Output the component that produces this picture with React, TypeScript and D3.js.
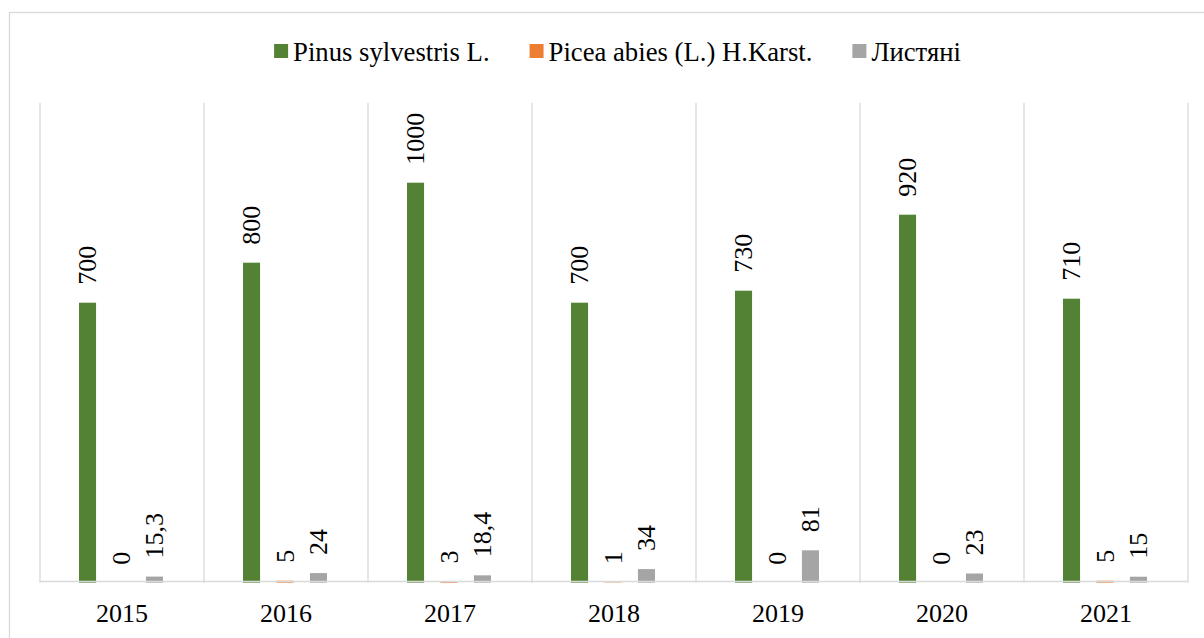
import React, { useEffect, useRef } from "react";
import * as d3 from "d3";

const years = ["2015", "2016", "2017", "2018", "2019", "2020", "2021"];
const pinus = [700, 800, 1000, 700, 730, 920, 710];
const picea = [0, 5, 3, 1, 0, 0, 5];
const lystiani = [15.3, 24, 18.4, 34, 81, 23, 15];
const seriesNames = ["Pinus sylvestris L.", "Picea abies (L.) H.Karst.", "Листяні"];
const colors = ["#548235", "#ED7D31", "#A5A5A5"];

const W = 1204;
const H = 638;
const FONT = "'Times New Roman', 'Liberation Serif', serif";

const App = () => {
  const ref = useRef<SVGGElement>(null);

  useEffect(() => {
    const g = d3.select(ref.current);
    g.selectAll("*").remove();

    const series = [pinus, picea, lystiani];
    const x = d3.scaleBand().domain(years).range([40, 1188]).padding(0);
    const y = d3.scaleLinear().domain([0, 1200]).range([582.7, 102.7]);
    const inner = d3.scaleBand().domain(["0", "1", "2"]).range([79, 163]).paddingInner(0.49);
    const fmt = d3.formatLocale({ decimal: ",", thousands: "", grouping: [3], currency: ["", ""] }).format("~");

    // outer border
    g.append("rect")
      .attr("x", 9.5)
      .attr("y", 12.5)
      .attr("width", 1200)
      .attr("height", 640)
      .attr("fill", "#fff")
      .attr("stroke", "#d9d9d9")
      .attr("stroke-width", 1.3);

    // vertical gridlines at category borders
    const edges = years.map(d => x(d)!).concat([x.range()[1]]);
    g.selectAll("line.grid")
      .data(edges)
      .enter()
      .append("line")
      .attr("class", "grid")
      .attr("x1", d => d)
      .attr("x2", d => d)
      .attr("y1", y(1200))
      .attr("y2", y(0))
      .attr("stroke", "#d9d9d9")
      .attr("stroke-width", 1.3);

    // bars
    series.forEach((vals, si) => {
      const off = inner(String(si))! - 79;
      g.selectAll("rect.s" + si)
        .data(vals)
        .enter()
        .append("rect")
        .attr("class", "s" + si)
        .attr("x", (d, i) => x(years[i])! + 39 + off)
        .attr("y", d => y(d))
        .attr("width", inner.bandwidth())
        .attr("height", d => y(0) - y(d))
        .attr("fill", colors[si]);

      g.selectAll("text.l" + si)
        .data(vals)
        .enter()
        .append("text")
        .attr("class", "l" + si)
        .attr("transform", (d, i) => {
          const cx = x(years[i])! + 39 + off + inner.bandwidth() / 2;
          return `translate(${cx},${y(d) - 18}) rotate(-90)`;
        })
        .attr("dy", "0.34em")
        .attr("text-anchor", "start")
        .attr("font-size", 26)
        .attr("fill", "#000")
        .text(d => fmt(d));
    });

    // baseline axis
    g.append("line")
      .attr("x1", 40)
      .attr("x2", 1188)
      .attr("y1", 581.5)
      .attr("y2", 581.5)
      .attr("stroke", "#d9d9d9")
      .attr("stroke-width", 1.5);

    // category labels
    g.selectAll("text.cat")
      .data(years)
      .enter()
      .append("text")
      .attr("class", "cat")
      .attr("x", d => x(d)! + x.bandwidth() / 2)
      .attr("y", 622)
      .attr("text-anchor", "middle")
      .attr("font-size", 26)
      .attr("fill", "#000")
      .text(d => d);

    // legend
    const legend = g.append("g");
    let cursor = 0;
    seriesNames.forEach((name, i) => {
      const item = legend.append("g").attr("transform", `translate(${cursor},0)`);
      item.append("rect")
        .attr("x", 0)
        .attr("y", 44)
        .attr("width", 14)
        .attr("height", 14)
        .attr("fill", colors[i]);
      const t = item.append("text")
        .attr("x", 19)
        .attr("y", 60.5)
        .attr("font-size", 26.7)
        .attr("fill", "#000")
        .text(name);
      const w = (t.node() as SVGTextElement).getComputedTextLength();
      cursor += 19 + w + 40;
    });
    const total = cursor - 40;
    legend.attr("transform", `translate(${617.5 - total / 2},0)`);
  }, []);

  return (
    <div>
      <svg
        width={W}
        height={H}
        style={{ position: "absolute", left: 0, top: 0, fontFamily: FONT }}
      >
        <g ref={ref} />
      </svg>
    </div>
  );
};

export default App;
